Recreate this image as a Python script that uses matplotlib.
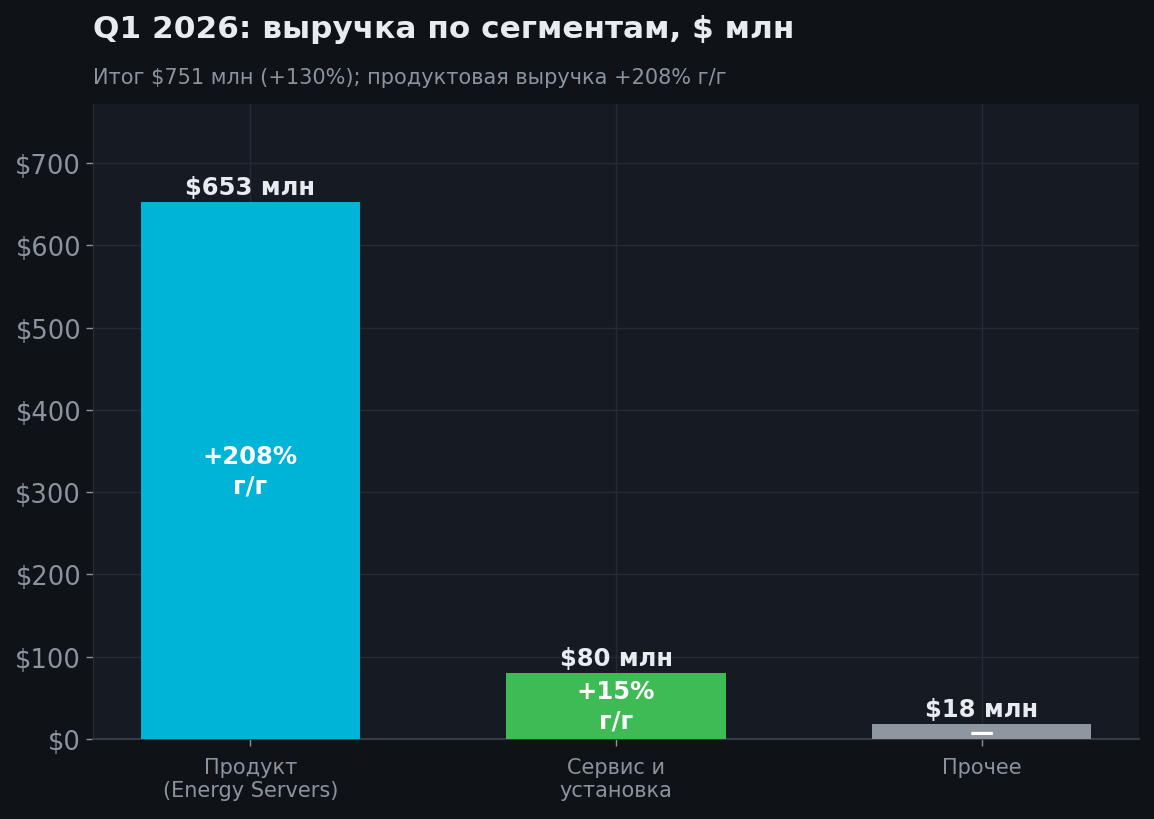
import matplotlib

matplotlib.use("Agg")
import matplotlib.pyplot as plt
from matplotlib.ticker import FuncFormatter

BG = "#0f1318"
PANEL = "#161a23"
GRID = "#252a35"
TEXT = "#e8ecf1"
MUTED = "#8b949e"

categories = ["Продукт\n(Energy Servers)", "Сервис и\nустановка", "Прочее"]
revenue = [653, 80, 18]
growth = ["+208%\nг/г", "+15%\nг/г", "—"]
colors = ["#00b4d8", "#3fbb55", "#8e96a0"]

plt.rcParams["font.family"] = ["DejaVu Sans"]

fig = plt.figure(figsize=(11.54, 8.2), dpi=100, facecolor=BG)
ax = fig.add_axes([93 / 1154, 80 / 820, (1139 - 93) / 1154, (740 - 105) / 820])
ax.set_facecolor(PANEL)

x = list(range(len(categories)))
bars = ax.bar(x, revenue, width=0.6, color=colors, zorder=3)

for bar, val, g in zip(bars, revenue, growth):
    cx = bar.get_x() + bar.get_width() / 2
    ax.annotate(f"${val} млн", (cx, val), xytext=(0, 2), textcoords="offset points",
                ha="center", va="bottom", color=TEXT, fontsize=17.5,
                fontweight="bold", zorder=4)
    ax.text(cx, val / 2, g, ha="center", va="center", color="white",
            fontsize=17.5, fontweight="bold", linespacing=1.3, zorder=4)

ax.set_xlim(-0.43, 2.43)
ax.set_ylim(0, 772)
ax.set_yticks(range(0, 701, 100))
ax.yaxis.set_major_formatter(FuncFormatter(lambda v, _: f"${v:.0f}"))
ax.set_xticks(x)
ax.set_xticklabels(categories, fontsize=15, color=MUTED)
ax.tick_params(axis="y", labelsize=18.5, colors=MUTED, length=5, width=1)
ax.tick_params(axis="x", colors=MUTED, length=5, width=1, pad=8)
for lbl in ax.get_xticklabels():
    lbl.set_color(MUTED)

ax.grid(True, color=GRID, linewidth=1, zorder=0)
for side in ("top", "right"):
    ax.spines[side].set_visible(False)
ax.spines["left"].set_color("#2a2f3a")
ax.spines["bottom"].set_color("#343a46")
ax.spines["bottom"].set_linewidth(1.5)

fig.text(93 / 1154, 1 - 38 / 820, "Q1 2026: выручка по сегментам, $ млн",
         color=TEXT, fontsize=22.4, fontweight="bold", ha="left", va="baseline")
fig.text(93 / 1154, 1 - 84 / 820,
         "Итог $751 млн (+130%); продуктовая выручка +208% г/г",
         color=MUTED, fontsize=15, ha="left", va="baseline")

fig.savefig("out.png", dpi=100, facecolor=BG)
